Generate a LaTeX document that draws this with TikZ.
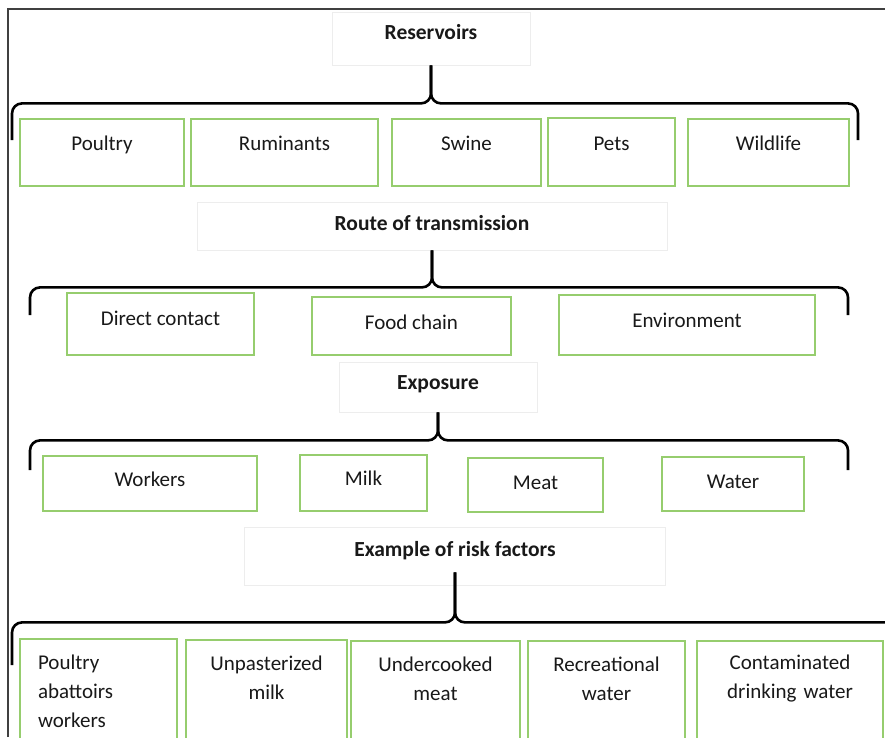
\documentclass[tikz,border=0pt]{standalone}
\usepackage{fontspec}
\setmainfont{Carlito}
\usepackage{xcolor}
\usepackage{tikz}
\usetikzlibrary{calc}
\definecolor{boxgreen}{RGB}{150,205,110}
\definecolor{inkgray}{RGB}{25,25,25}

\begin{document}
\begin{tikzpicture}[x=1pt, y=-1pt,
    box/.style={draw=boxgreen, line width=1.6pt, inner sep=0pt, anchor=base,
        text=inkgray, font=\fontsize{21}{29}\selectfont},
    title/.style={draw=black!7, line width=0.8pt, inner sep=0pt, anchor=base,
        text=inkgray, font=\fontsize{21.5}{25}\selectfont\bfseries},
    brace/.style={draw=black, line width=2.6pt, rounded corners=10pt}]
    \useasboundingbox[fill=white] (0,0) rectangle (885,737);

    % Frame of the figure
    \draw[black!75, line width=1.4pt] (8,737) -- (8,9) -- (885,9);

    % Reservoirs
    \node[title, minimum width=198pt, text height=27pt, text depth=26pt] (res) at (431,39) {Reservoirs};
    \draw[brace] (res.south) -- ++(0,38) -| (12,140);
    \draw[brace] (res.south) -- ++(0,38) -| (858,140);
    \node[box, minimum width=164pt, text height=31pt, text depth=36pt] (poultry) at (102,150) {Poultry};
    \node[box, minimum width=187pt, text height=31pt, text depth=36pt] (rumin) at (284.5,150) {Ruminants};
    \node[box, minimum width=149pt, text height=31pt, text depth=36pt] (swine) at (466.5,150) {Swine};
    \node[box, minimum width=127pt, text height=32pt, text depth=36pt] (pets) at (611.5,150) {Pets};
    \node[box, minimum width=161pt, text height=31pt, text depth=36pt] (wild) at (768.5,150) {Wildlife};

    % Route of transmission
    \node[title, minimum width=470pt, text height=28pt, text depth=20pt] (route) at (432,230) {Route of transmission};
    \draw[brace] (route.south) -- ++(0,37) -| (30,315);
    \draw[brace] (route.south) -- ++(0,37) -| (848,315);
    \node[box, minimum width=187pt, text height=32pt, text depth=30pt] (direct) at (160.5,325) {Direct contact};
    \node[box, minimum width=199pt, text height=32pt, text depth=26pt] (food) at (411.5,329) {Food chain};
    \node[box, minimum width=256pt, text height=32pt, text depth=28pt] (env) at (687,327) {Environment};

    % Exposure
    \node[title, minimum width=198pt, text height=27pt, text depth=23pt] (expo) at (438,389) {Exposure};
    \draw[brace] (expo.south) -- ++(0,28) -| (30,470);
    \draw[brace] (expo.south) -- ++(0,28) -| (848,470);
    \node[box, minimum width=214pt, text height=30pt, text depth=25pt] (workers) at (150,486) {Workers};
    \node[box, minimum width=127pt, text height=30pt, text depth=26pt] (milk) at (363.5,485) {Milk};
    \node[box, minimum width=135pt, text height=31pt, text depth=23pt] (meat) at (535.5,489) {Meat};
    \node[box, minimum width=142pt, text height=31pt, text depth=23pt] (water) at (733,488) {Water};

    % Example of risk factors
    \node[title, minimum width=421pt, text height=29pt, text depth=29pt] (risk) at (455,556) {Example of risk factors};
    \draw[brace] ([yshift=13pt]risk.south) -- ++(0,50) -| (12,665);
    \draw[brace] ([yshift=13pt]risk.south) -- ++(0,50) -| (900,665);
    \node[box, text width=121pt, inner xsep=18pt, align=left, text height=30pt, text depth=71pt] (abatt) at (98.5,669) {Poultry\\abattoirs\\workers};
    \node[box, text width=161pt, align=center, text height=30pt, text depth=70pt] (unpast) at (266.5,670) {Unpasterized\\milk};
    \node[box, text width=169pt, align=center, text height=30pt, text depth=69pt] (under) at (435.5,671) {Undercooked\\meat};
    \node[box, text width=157pt, align=center, text height=30pt, text depth=69pt] (recr) at (606.5,671) {Recreational\\water};
    \node[box, text width=186pt, align=center, text height=28pt, text depth=71pt] (contam) at (790,669) {Contaminated\\drinking water};
\end{tikzpicture}
\end{document}
